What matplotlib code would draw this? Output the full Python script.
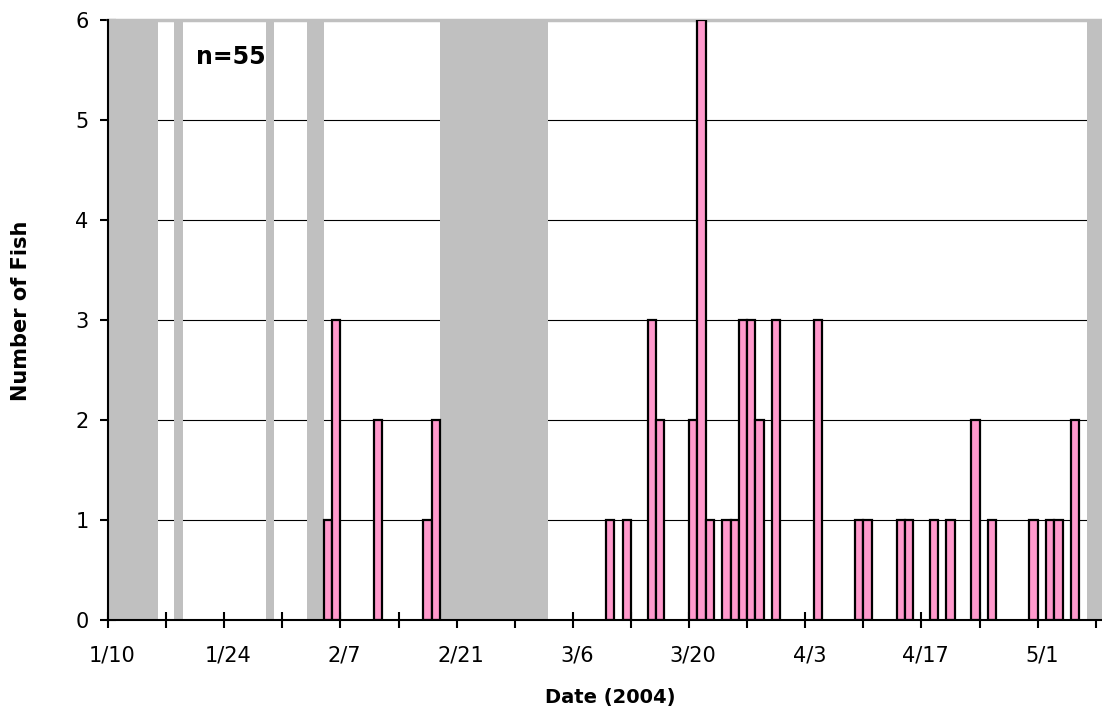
import numpy as np
import matplotlib.pyplot as plt
import matplotlib.dates as mdates
from datetime import datetime, timedelta

# fish counts per day (2004)
fish_dates = ['2/5', '2/6', '2/11', '2/17', '2/18',
              '3/10', '3/12', '3/15', '3/16', '3/20', '3/21', '3/22', '3/24',
              '3/25', '3/26', '3/27', '3/28', '3/30', '4/4',
              '4/9', '4/10', '4/14', '4/15', '4/18', '4/20', '4/23', '4/25',
              '4/30', '5/2', '5/3', '5/5']
fish_counts = [1, 3, 2, 1, 2,
               1, 1, 3, 2, 2, 6, 1, 1,
               1, 3, 3, 2, 3, 3,
               1, 1, 1, 1, 1, 1, 2, 1,
               1, 1, 1, 2]

# periods with no sampling (grey)
gap_starts = ['1/10', '1/18', '1/29', '2/3', '2/19', '5/7']
gap_ends = ['1/15', '1/18', '1/29', '2/4', '3/2', '5/8']

tick_labels = ['1/10', '1/24', '2/7', '2/21', '3/6', '3/20', '4/3', '4/17', '5/1']


def to_num(s):
    return mdates.date2num(datetime.strptime(s + '/2004', '%m/%d/%Y'))


start = to_num('1/10')

fig = plt.figure(figsize=(11.02, 7.17), dpi=100)
ax = fig.add_axes([108 / 1102, 1 - 620 / 717, 1 - 108 / 1102, 600 / 717])

for s, e in zip(gap_starts, gap_ends):
    ax.axvspan(to_num(s), to_num(e) + 1, color='#c0c0c0', lw=0, zorder=1)

x = [to_num(d) for d in fish_dates]
ax.bar(x, fish_counts, width=1, align='edge', color='#ff99cc',
       edgecolor='black', linewidth=1.6, zorder=3)

ax.set_xlim(start, start + 119.75)
ax.set_ylim(0, 6)

# weekly tick marks, labels centred in the day slot every two weeks
ax.set_xticks([start + 7 * i for i in range(18)], minor=True)
ax.set_xticks([to_num(t) + 0.5 for t in tick_labels])
ax.set_xticklabels(tick_labels)
ax.tick_params(axis='x', which='major', length=0, pad=18.5, labelsize=15)
ax.tick_params(axis='x', which='minor', direction='inout', length=12, width=1.5)

ax.set_yticks(range(7))
ax.tick_params(axis='y', direction='inout', length=12, width=1.5, pad=8, labelsize=15)

ax.set_axisbelow(True)
ax.yaxis.grid(True, color='black', linewidth=0.8)

ax.spines['right'].set_visible(False)
ax.spines['top'].set_color('#c0c0c0')
ax.spines['top'].set_linewidth(2.5)
ax.spines['left'].set_linewidth(1.5)
ax.spines['bottom'].set_linewidth(1.5)
ax.spines['left'].set_zorder(4)
ax.spines['bottom'].set_zorder(4)

ax.set_xlabel('Date (2004)', fontsize=14, fontweight='bold', va='center')
ax.xaxis.set_label_coords(0.505, -(697 - 620) / 600)
ax.set_ylabel('Number of Fish', fontsize=15, fontweight='bold', va='center')
ax.yaxis.set_label_coords((21 - 108) / 994, (620 - 311) / 600)

ax.text((196 - 108) / 994, (620 - 57) / 600, 'n=55', transform=ax.transAxes,
        fontsize=17, fontweight='bold', va='center', ha='left')

plt.savefig('out.png', dpi=100)
